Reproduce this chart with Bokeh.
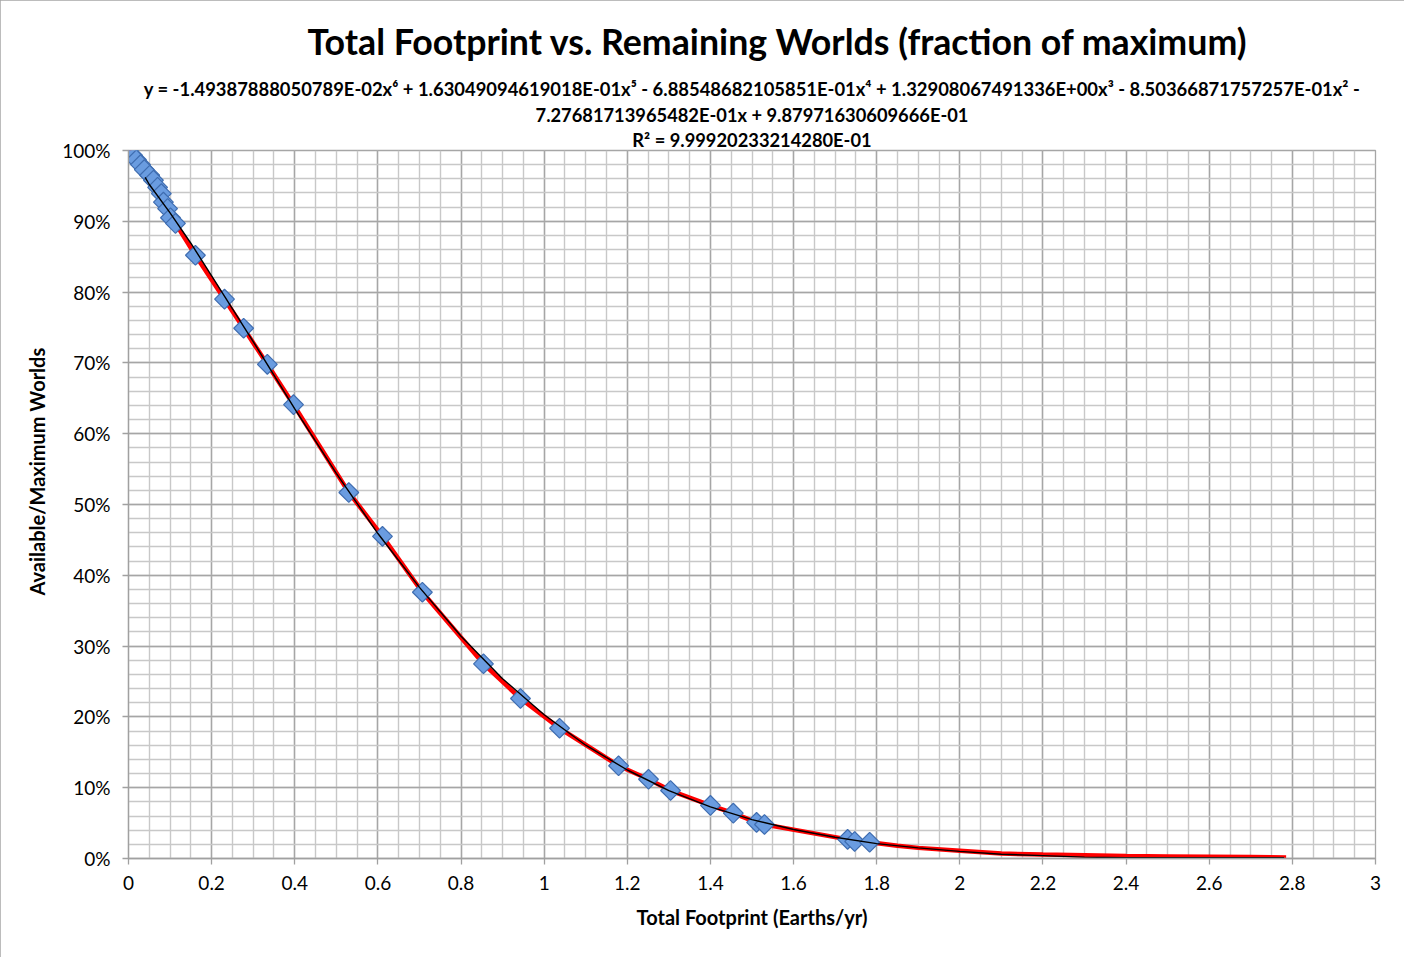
import math
from bokeh.plotting import figure
from bokeh.models import Range1d, FixedTicker, Title
from bokeh.embed import file_html
from bokeh.resources import INLINE

# ---- data ----
# blue diamond series: total footprint (Earths/yr) vs available/maximum worlds (fraction)
pts_x = [0.000, 0.010, 0.019, 0.029, 0.038, 0.051, 0.060, 0.070, 0.079, 0.084, 0.094,
         0.101, 0.113, 0.161, 0.231, 0.277, 0.334, 0.397, 0.530, 0.611, 0.707, 0.854,
         0.943, 1.037, 1.179, 1.251, 1.304, 1.400, 1.455, 1.511, 1.530, 1.730, 1.747, 1.783]
pts_y = [1.000, 0.993, 0.987, 0.980, 0.973, 0.965, 0.958, 0.948, 0.939, 0.927, 0.918,
         0.905, 0.897, 0.852, 0.790, 0.749, 0.698, 0.641, 0.517, 0.455, 0.376, 0.275,
         0.226, 0.184, 0.131, 0.112, 0.096, 0.075, 0.064, 0.051, 0.048, 0.027, 0.024, 0.023]

# red series (no markers): same points continued to the end of the run
red_tail_x = [1.85, 1.90, 2.00, 2.10, 2.20, 2.30, 2.40, 2.50, 2.60, 2.70, 2.785]
red_tail_y = [0.018, 0.015, 0.011, 0.007, 0.0055, 0.0045, 0.0035, 0.003, 0.0025, 0.002, 0.0015]
red_x = pts_x + red_tail_x
red_y = pts_y + red_tail_y

# black polynomial trend line (as drawn)
trend_x = [0.04, 0.05, 0.10, 0.15, 0.20, 0.30, 0.40, 0.50, 0.60, 0.70, 0.80, 0.90, 1.00,
           1.10, 1.20, 1.30, 1.40, 1.50, 1.60, 1.70, 1.80, 1.90, 2.00, 2.10, 2.20, 2.30,
           2.40, 2.50, 2.60, 2.70, 2.78]
trend_y = [0.962, 0.952, 0.912, 0.869, 0.823, 0.730, 0.635, 0.544, 0.459, 0.383, 0.314,
           0.254, 0.203, 0.160, 0.125, 0.096, 0.073, 0.055, 0.041, 0.030, 0.021, 0.015,
           0.010, 0.006, 0.004, 0.002, 0.001, 0.001, 0.001, 0.001, 0.001]

x_ticks = [0, 0.2, 0.4, 0.6, 0.8, 1.0, 1.2, 1.4, 1.6, 1.8, 2.0, 2.2, 2.4, 2.6, 2.8, 3.0]
x_tick_labels = ["0", "0.2", "0.4", "0.6", "0.8", "1", "1.2", "1.4", "1.6", "1.8",
                 "2", "2.2", "2.4", "2.6", "2.8", "3"]
y_ticks = [0, 0.1, 0.2, 0.3, 0.4, 0.5, 0.6, 0.7, 0.8, 0.9, 1.0]
y_tick_labels = ["0%", "10%", "20%", "30%", "40%", "50%", "60%", "70%", "80%", "90%", "100%"]
x_minor = [i * 0.05 for i in range(61)]
y_minor = [i * 0.02 for i in range(51)]

title_text = "Total Footprint vs. Remaining Worlds (fraction of maximum)"
eq_lines = [
    "y = -1.49387888050789E-02x\u2076 + 1.63049094619018E-01x\u2075 - 6.88548682105851E-01x\u2074 + 1.32908067491336E+00x\u00b3 - 8.50366871757257E-01x\u00b2 -",
    "7.27681713965482E-01x + 9.87971630609666E-01",
    "R\u00b2 = 9.99920233214280E-01",
]
x_label = "Total Footprint (Earths/yr)"
y_label = "Available/Maximum Worlds"

FONT = "Lato"

p = figure(width=1404, height=957, output_backend="svg", toolbar_location=None,
           x_range=Range1d(0, 3), y_range=Range1d(0, 1),
           min_border_left=128, min_border_right=29, min_border_top=150, min_border_bottom=99,
           styles={"outline": "2px solid #a6a6a6", "outline-offset": "-2px"})
p.background_fill_color = "white"
p.border_fill_color = "white"
p.outline_line_color = "#a6a6a6"
p.outline_line_width = 1.3

p.xaxis.ticker = FixedTicker(ticks=x_ticks, minor_ticks=x_minor)
p.yaxis.ticker = FixedTicker(ticks=y_ticks, minor_ticks=y_minor)
p.xaxis.major_label_overrides = {t: l for t, l in zip(x_ticks, x_tick_labels)}
p.yaxis.major_label_overrides = {t: l for t, l in zip(y_ticks, y_tick_labels)}

for ax in (p.xaxis, p.yaxis):
    ax.axis_line_color = "#a0a0a0"
    ax.axis_line_width = 1.3
    ax.major_tick_line_color = "#a0a0a0"
    ax.major_tick_line_width = 1.3
    ax.major_tick_in = 0
    ax.major_tick_out = 6
    ax.minor_tick_line_color = None
    ax.major_label_text_font = FONT
    ax.major_label_text_font_size = "19px"
    ax.major_label_text_color = "black"
    ax.axis_label_text_font = FONT
    ax.axis_label_text_font_size = "20px"
    ax.axis_label_text_font_style = "bold"
    ax.axis_label_text_color = "black"

p.xaxis.axis_label = x_label
p.xaxis.major_label_standoff = 11
p.yaxis.major_label_standoff = 12
p.xaxis.axis_label_standoff = 12

p.xgrid.grid_line_color = "#a6a6a6"
p.ygrid.grid_line_color = "#a6a6a6"
p.xgrid.grid_line_width = 1.4
p.ygrid.grid_line_width = 1.4
p.xgrid.minor_grid_line_color = "#c8c8c8"
p.ygrid.minor_grid_line_color = "#c8c8c8"
p.xgrid.minor_grid_line_width = 1.4
p.ygrid.minor_grid_line_width = 1.4
p.xgrid.level = "underlay"
p.ygrid.level = "underlay"

p.line(red_x, red_y, line_color="#ff0000", line_width=4.5)
p.scatter(pts_x, pts_y, marker="square", angle=math.pi / 4, size=14, fill_color="#6a9ce0",
          line_color="#3f6db0", line_width=1.2)
p.line(trend_x, trend_y, line_color="black", line_width=1.4)

# y axis title (vertical), placed so that it sits where the reference has it
p.add_layout(Title(text=y_label, align="left", offset=263, text_font=FONT,
                   text_font_size="20px", text_font_style="bold", text_color="black",
                   standoff=22), "left")

# titles: added from the plot outward
title_specs = [
    (eq_lines[2], "18.3px", 0, "center", 0),
    (eq_lines[1], "18.3px", 2, "center", 0),
    (eq_lines[0], "18.4px", 2, "center", 0),
    (title_text, "35.7px", 24, "left", 179),
]
for txt, fs, so, al, off in title_specs:
    t = Title(text=txt, align=al, offset=off, text_font=FONT, text_font_size=fs,
              text_font_style="bold", text_color="black", standoff=so)
    p.add_layout(t, "above")

open("out.html", "w").write(file_html(p, INLINE))
